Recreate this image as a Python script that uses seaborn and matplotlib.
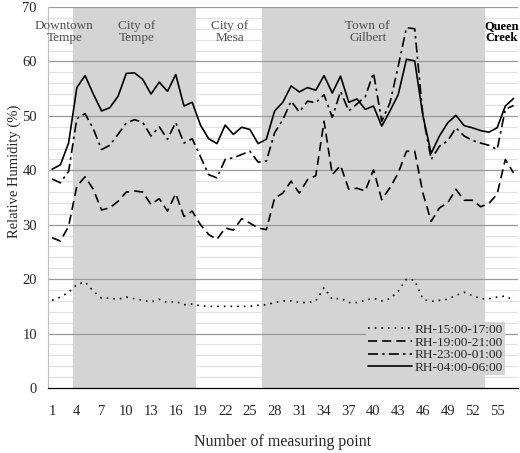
import numpy as np
import pandas as pd
import matplotlib
matplotlib.use("Agg")
import matplotlib.pyplot as plt
import seaborn as sns
from matplotlib.ticker import FixedLocator

# ---- data ----
points = list(range(1, 58))
rh_1517 = [16.1, 16.7, 17.6, 19.0, 19.5, 17.8, 16.5, 16.5, 16.3, 16.7,
           16.4, 16.1, 15.8, 16.3, 15.7, 15.9, 15.3, 15.4, 15.1, 15.0,
           15.0, 15.0, 15.0, 15.0, 15.0, 15.2, 15.3, 15.7, 16.0, 16.0,
           15.7, 15.7, 16.0, 18.4, 16.3, 16.5, 15.7, 15.7, 16.1, 16.5,
           16.0, 16.4, 17.8, 20.0, 19.8, 16.3, 15.9, 16.1, 16.3, 17.0,
           17.6, 17.0, 16.4, 16.4, 16.7, 16.9, 16.1]
rh_1921 = [27.6, 27.0, 29.7, 37.1, 38.8, 36.5, 32.7, 33.1, 34.3, 36.0,
           36.2, 36.0, 33.7, 34.8, 32.5, 35.7, 31.5, 32.5, 30.0, 28.2,
           27.3, 29.4, 29.0, 31.1, 30.3, 29.4, 29.1, 34.9, 35.8, 38.0,
           35.8, 38.3, 39.0, 49.0, 39.2, 40.9, 36.5, 36.7, 36.2, 40.1,
           34.6, 36.8, 39.5, 43.5, 43.5, 35.8, 30.6, 33.1, 34.0, 36.5,
           34.5, 34.5, 33.3, 33.9, 35.6, 42.0, 39.5]
rh_2301 = [38.4, 37.7, 39.8, 49.5, 50.4, 47.6, 43.8, 44.6, 46.6, 48.7,
           49.3, 48.8, 46.3, 48.0, 45.7, 48.8, 45.0, 45.8, 42.5, 39.2,
           38.6, 42.0, 42.3, 42.9, 43.5, 41.5, 41.7, 46.9, 49.3, 52.7,
           50.7, 52.7, 52.4, 53.9, 49.7, 54.5, 50.9, 52.2, 53.5, 57.9,
           49.0, 52.4, 59.1, 66.2, 66.0, 50.0, 42.0, 44.4, 45.4, 47.8,
           46.3, 45.5, 45.0, 44.6, 43.8, 51.2, 51.9]
rh_0406 = [40.2, 41.0, 45.0, 55.2, 57.4, 54.0, 50.9, 51.5, 53.6, 57.8,
           57.9, 56.7, 54.0, 56.2, 54.5, 57.6, 51.8, 52.5, 48.3, 45.8,
           44.9, 48.3, 46.6, 47.9, 47.5, 44.9, 45.7, 50.9, 52.5, 55.5,
           54.4, 55.2, 54.7, 57.4, 54.2, 57.3, 52.5, 53.1, 51.2, 51.8,
           48.1, 50.9, 53.9, 60.4, 60.1, 50.0, 43.1, 46.3, 48.7, 50.1,
           48.2, 47.8, 47.3, 47.0, 47.8, 51.8, 53.2]
series_labels = ["RH-15:00-17:00", "RH-19:00-21:00", "RH-23:00-01:00", "RH-04:00-06:00"]
shaded_zones = [(3.5, 18.5), (26.5, 53.5)]
zone_names = ["Downtown\nTempe", "City of\nTempe", "City of\nMesa", "Town of\nGilbert", "Queen\nCreek"]
zone_centers = [2.5, 11.3, 22.6, 39.3, 55.6]
xtick_labels = list(range(1, 56, 3))

# ---- style ----
sns.set_style("white")
plt.rcParams['font.family'] = ['Liberation Serif', 'DejaVu Serif']

fig = plt.figure(figsize=(5.2, 4.53), dpi=100)
ax = fig.add_axes([48/520, 65/453, (517.7-48)/520, (388-7)/453])

shade = "#d4d4d4"
for v in np.arange(2, 70, 2):
    if v % 10:
        ax.axhline(v, color="#e2e2e2", lw=0.9, zorder=0)
for a, b in shaded_zones:
    ax.axvspan(a, b, color=shade, lw=0, zorder=0.5)
for v in range(10, 71, 10):
    ax.axhline(v, color="#9a9a9a", lw=0.9, zorder=1)

styles = [(0, (1, 3)), (0, (5.5, 3)), (0, (6, 2.5, 1.5, 2.5)), "-"]
for vals, lab, ls in zip([rh_1517, rh_1921, rh_2301, rh_0406], series_labels, styles):
    sns.lineplot(x=points, y=vals, ax=ax, color="black", lw=1.2, linestyle=ls,
                 label=lab, zorder=3)

ax.set_xlim(0.5, 57.5)
ax.set_ylim(0, 70)
ax.set_yticks(range(0, 71, 10))
ax.set_xticks(xtick_labels)
ax.set_xticklabels([str(t) for t in xtick_labels])
ax.xaxis.set_minor_locator(FixedLocator(np.arange(0.5, 58, 1)))
ax.tick_params(axis="x", which="major", length=0, labelsize=10.5, pad=12)
ax.tick_params(axis="x", which="minor", length=4, width=0.8, color="black", direction="out")
ax.tick_params(axis="y", which="major", length=4, width=0.8, color="#808080", labelsize=10.5, pad=4)

for s in ["top", "right"]:
    ax.spines[s].set_visible(False)
ax.spines["left"].set_color("#c0c0c0")
ax.spines["left"].set_linewidth(0.8)
ax.spines["bottom"].set_color("black")
ax.spines["bottom"].set_linewidth(0.9)

ax.set_xlabel("Number of measuring point", fontsize=11.5, labelpad=12)
ax.set_ylabel("Relative Humidity (%)", fontsize=10.5)
ax.yaxis.set_label_coords(-0.057, 0.57)

for i, (name, cx) in enumerate(zip(zone_names, zone_centers)):
    last = i == len(zone_names) - 1
    ax.text(cx, 65.4, name, ha="center", va="center",
            fontsize=9 if last else 9.5,
            color="black" if last else "#505050",
            fontweight="bold" if last else "normal", linespacing=1.0,
            zorder=4, clip_on=False)

leg = ax.legend(loc="upper left", bbox_to_anchor=(0.678, 0.172), fontsize=9.6,
                handlelength=3.3, handletextpad=0.25, labelspacing=0.02,
                borderpad=0.1, borderaxespad=0, frameon=True, fancybox=False)
leg.get_frame().set_facecolor(shade)
leg.get_frame().set_edgecolor("none")
leg.get_frame().set_alpha(1)

fig.savefig("out.png", dpi=100)
